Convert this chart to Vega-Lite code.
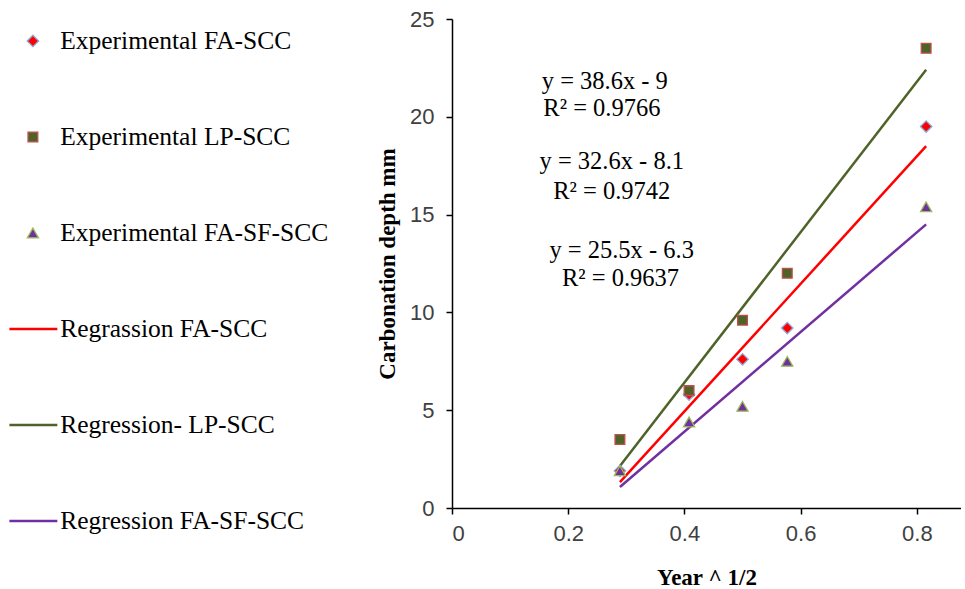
{
  "$schema": "https://vega.github.io/schema/vega-lite/v6.json",
  "background": "white",
  "padding": {"left": 0, "top": 8, "right": 0, "bottom": 0},
  "config": {
    "view": {"stroke": null},
    "concat": {"spacing": 0},
    "axis": {
      "grid": false,
      "domainColor": "#000000",
      "domainWidth": 1.5,
      "tickColor": "#000000",
      "tickWidth": 1.5,
      "tickSize": 6,
      "labelFont": "Liberation Sans",
      "labelFontSize": 22,
      "labelColor": "#404040",
      "titleFont": "Liberation Serif",
      "titleFontWeight": "bold",
      "titleFontSize": 23,
      "titleColor": "#000000"
    }
  },
  "datasets": {
    "points": [
      {"x": 0.289, "y": 1.9, "series": "Experimental FA-SCC"},
      {"x": 0.408, "y": 5.8, "series": "Experimental FA-SCC"},
      {"x": 0.5, "y": 7.6, "series": "Experimental FA-SCC"},
      {"x": 0.577, "y": 9.2, "series": "Experimental FA-SCC"},
      {"x": 0.816, "y": 19.5, "series": "Experimental FA-SCC"},
      {"x": 0.289, "y": 3.5, "series": "Experimental LP-SCC"},
      {"x": 0.408, "y": 6.0, "series": "Experimental LP-SCC"},
      {"x": 0.5, "y": 9.6, "series": "Experimental LP-SCC"},
      {"x": 0.577, "y": 12.0, "series": "Experimental LP-SCC"},
      {"x": 0.816, "y": 23.5, "series": "Experimental LP-SCC"},
      {"x": 0.289, "y": 1.9, "series": "Experimental FA-SF-SCC"},
      {"x": 0.408, "y": 4.4, "series": "Experimental FA-SF-SCC"},
      {"x": 0.5, "y": 5.2, "series": "Experimental FA-SF-SCC"},
      {"x": 0.577, "y": 7.5, "series": "Experimental FA-SF-SCC"},
      {"x": 0.816, "y": 15.4, "series": "Experimental FA-SF-SCC"}
    ],
    "lines": [
      {"x": 0.289, "y": 1.32, "series": "Regrassion FA-SCC"},
      {"x": 0.816, "y": 18.5, "series": "Regrassion FA-SCC"},
      {"x": 0.289, "y": 2.15, "series": "Regression- LP-SCC"},
      {"x": 0.816, "y": 22.4, "series": "Regression- LP-SCC"},
      {"x": 0.289, "y": 1.07, "series": "Regression FA-SF-SCC"},
      {"x": 0.816, "y": 14.5, "series": "Regression FA-SF-SCC"}
    ],
    "notes": [
      {"x": 0.263, "y": 21.78, "text": "y = 38.6x  - 9"},
      {"x": 0.258, "y": 20.4, "text": "R² = 0.9766"},
      {"x": 0.275, "y": 17.69, "text": "y = 32.6x  - 8.1"},
      {"x": 0.275, "y": 16.15, "text": "R² = 0.9742"},
      {"x": 0.292, "y": 13.14, "text": "y = 25.5x  - 6.3"},
      {"x": 0.290, "y": 11.71, "text": "R² = 0.9637"}
    ],
    "legend": [
      {"row": 0, "label": "Experimental FA-SCC", "kind": "point"},
      {"row": 1, "label": "Experimental LP-SCC", "kind": "point"},
      {"row": 2, "label": "Experimental FA-SF-SCC", "kind": "point"},
      {"row": 3, "label": "Regrassion FA-SCC", "kind": "line"},
      {"row": 4, "label": "Regression- LP-SCC", "kind": "line"},
      {"row": 5, "label": "Regression FA-SF-SCC", "kind": "line"}
    ]
  },
  "hconcat": [
    {
      "width": 376,
      "height": 524,
      "data": {"name": "legend"},
      "encoding": {
        "y": {"field": "row", "type": "ordinal", "scale": {"type": "point", "padding": 0.229}, "axis": null}
      },
      "layer": [
        {
          "transform": [{"filter": "datum.kind === 'line'"}],
          "mark": {"type": "rule", "strokeWidth": 2.5},
          "encoding": {
            "x": {"datum": 10, "type": "quantitative", "scale": {"domain": [0, 376]}, "axis": null},
            "x2": {"datum": 61},
            "stroke": {"field": "label", "type": "nominal", "legend": null,
              "scale": {"domain": ["Regrassion FA-SCC", "Regression- LP-SCC", "Regression FA-SF-SCC"], "range": ["#FF0000", "#4F6228", "#7030A0"]}}
          }
        },
        {
          "transform": [{"filter": "datum.kind === 'point'"}],
          "mark": {"type": "point", "filled": true, "opacity": 1, "strokeWidth": 1.3},
          "encoding": {
            "x": {"datum": 35, "type": "quantitative"},
            "size": {"field": "label", "type": "nominal", "legend": null,
              "scale": {"type": "ordinal", "domain": ["Experimental FA-SCC", "Experimental LP-SCC", "Experimental FA-SF-SCC"], "range": [130, 95, 125]}},
            "shape": {"field": "label", "type": "nominal", "legend": null,
              "scale": {"domain": ["Experimental FA-SCC", "Experimental LP-SCC", "Experimental FA-SF-SCC"], "range": ["diamond", "square", "triangle-up"]}},
            "fill": {"field": "label", "type": "nominal", "legend": null,
              "scale": {"domain": ["Experimental FA-SCC", "Experimental LP-SCC", "Experimental FA-SF-SCC"], "range": ["#FF0000", "#4F6228", "#7030A0"]}},
            "stroke": {"field": "label", "type": "nominal", "legend": null,
              "scale": {"domain": ["Experimental FA-SCC", "Experimental LP-SCC", "Experimental FA-SF-SCC"], "range": ["#8EA9DB", "#C0504D", "#9BBB59"]}}
          }
        },
        {
          "mark": {"type": "text", "align": "left", "baseline": "middle", "font": "Liberation Serif", "fontSize": 25.5, "color": "#000000"},
          "encoding": {
            "x": {"datum": 64, "type": "quantitative"},
            "text": {"field": "label"}
          }
        }
      ],
      "resolve": {"scale": {"stroke": "independent"}}
    },
    {
      "width": 509,
      "height": 489,
      "layer": [
        {
          "data": {"name": "lines"},
          "mark": {"type": "line", "strokeWidth": 2.5},
          "encoding": {
            "x": {"field": "x", "type": "quantitative", "scale": {"domain": [0, 0.876], "nice": false},
              "axis": {"values": [0, 0.2, 0.4, 0.6, 0.8], "format": "~g", "title": "Year ^ 1/2", "labelPadding": 9, "titlePadding": 22}},
            "y": {"field": "y", "type": "quantitative", "scale": {"domain": [0, 25], "nice": false},
              "axis": {"values": [0, 5, 10, 15, 20, 25], "title": "Carbonation depth mm", "labelPadding": 12, "titlePadding": 10}},
            "stroke": {"field": "series", "type": "nominal", "legend": null,
              "scale": {"domain": ["Regrassion FA-SCC", "Regression- LP-SCC", "Regression FA-SF-SCC"], "range": ["#FF0000", "#4F6228", "#7030A0"]}}
          }
        },
        {
          "data": {"name": "points"},
          "mark": {"type": "point", "filled": true, "opacity": 1, "strokeWidth": 1.3},
          "encoding": {
            "x": {"field": "x", "type": "quantitative"},
            "y": {"field": "y", "type": "quantitative"},
            "size": {"field": "series", "type": "nominal", "legend": null,
              "scale": {"type": "ordinal", "domain": ["Experimental FA-SCC", "Experimental LP-SCC", "Experimental FA-SF-SCC"], "range": [130, 95, 125]}},
            "shape": {"field": "series", "type": "nominal", "legend": null,
              "scale": {"domain": ["Experimental FA-SCC", "Experimental LP-SCC", "Experimental FA-SF-SCC"], "range": ["diamond", "square", "triangle-up"]}},
            "fill": {"field": "series", "type": "nominal", "legend": null,
              "scale": {"domain": ["Experimental FA-SCC", "Experimental LP-SCC", "Experimental FA-SF-SCC"], "range": ["#FF0000", "#4F6228", "#7030A0"]}},
            "stroke": {"field": "series", "type": "nominal", "legend": null,
              "scale": {"domain": ["Experimental FA-SCC", "Experimental LP-SCC", "Experimental FA-SF-SCC"], "range": ["#8EA9DB", "#C0504D", "#9BBB59"]}}
          }
        },
        {
          "data": {"name": "notes"},
          "mark": {"type": "text", "align": "center", "baseline": "middle", "font": "Liberation Serif", "fontSize": 24.5, "color": "#000000"},
          "encoding": {
            "x": {"field": "x", "type": "quantitative"},
            "y": {"field": "y", "type": "quantitative"},
            "text": {"field": "text"}
          }
        }
      ],
      "resolve": {"scale": {"stroke": "independent"}}
    }
  ]
}
